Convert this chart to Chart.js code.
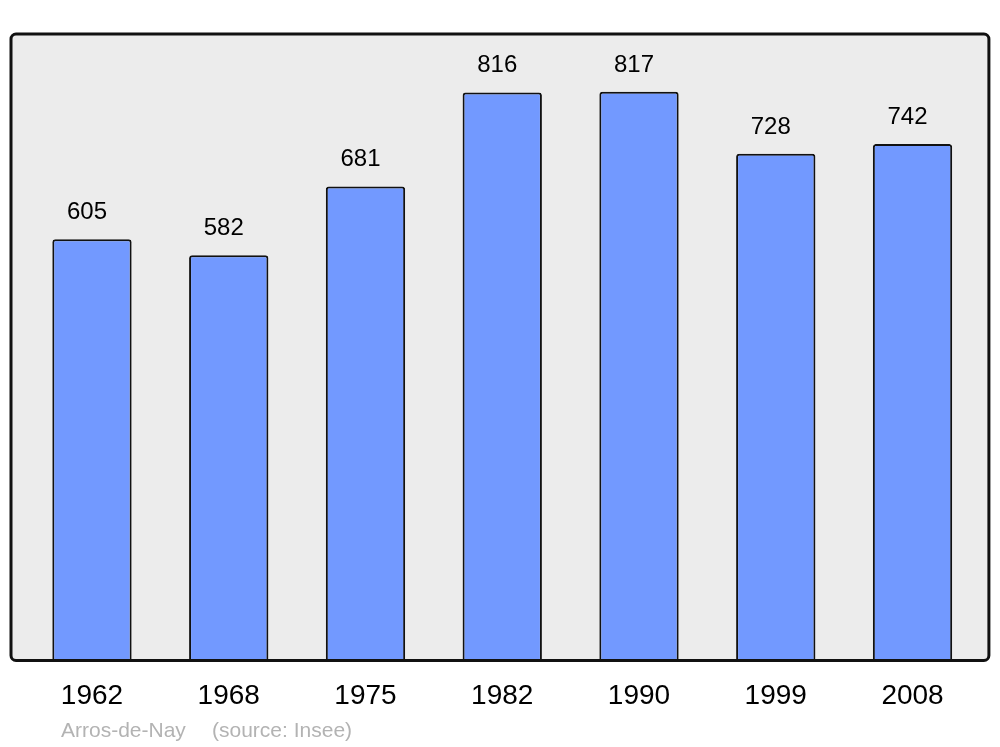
<!DOCTYPE html>
<html>
<head>
<meta charset="utf-8">
<script src="https://cdn.jsdelivr.net/npm/chart.js@4.4.0/dist/chart.umd.min.js"></script>
<style>
  html, body { margin: 0; padding: 0; background: #ffffff; }
  #wrap { width: 1000px; height: 747px; position: relative; }
</style>
</head>
<body>
<div id="wrap"><canvas id="popChart"></canvas></div>
<script>
// population data (Insee)
const years = ['1962', '1968', '1975', '1982', '1990', '1999', '2008'];
const population = [605, 582, 681, 816, 817, 728, 742];
const yMax = 900;

const townName = 'Arros-de-Nay';
const sourceText = '(source: Insee)';

// grey rounded frame behind the bars, dark outline drawn after them
const framePlugin = {
  id: 'frame',
  frameBox(chart) {
    const a = chart.chartArea;
    return { x: a.left - 12.6, y: a.top, w: (a.right + 8) - (a.left - 12.6), h: a.bottom - a.top };
  },
  beforeDatasetsDraw(chart) {
    const ctx = chart.ctx;
    const b = this.frameBox(chart);
    ctx.save();
    ctx.beginPath();
    ctx.roundRect(b.x, b.y, b.w, b.h, 5);
    ctx.fillStyle = '#ececec';
    ctx.fill();
    ctx.restore();
  },
  afterDatasetsDraw(chart) {
    const ctx = chart.ctx;
    const b = this.frameBox(chart);
    ctx.save();
    ctx.beginPath();
    ctx.roundRect(b.x, b.y, b.w, b.h, 5);
    ctx.lineWidth = 3;
    ctx.strokeStyle = '#111111';
    ctx.stroke();

    // value labels above each bar
    const meta = chart.getDatasetMeta(0);
    ctx.fillStyle = '#000000';
    ctx.font = '24px "Liberation Sans", Arial, sans-serif';
    ctx.textAlign = 'center';
    ctx.textBaseline = 'alphabetic';
    meta.data.forEach((bar, i) => {
      ctx.fillText(String(population[i]), bar.x - 5, bar.y - 20);
    });

    // footer caption
    ctx.fillStyle = '#b3b3b3';
    ctx.font = '21px "Liberation Sans", Arial, sans-serif';
    ctx.textAlign = 'left';
    ctx.fillText(townName, 61, 737);
    ctx.fillText(sourceText, 212, 737);
    ctx.restore();
  }
};

const config = {
  type: 'bar',
  data: {
    labels: years,
    datasets: [{
      data: population,
      backgroundColor: '#7299ff',
      borderColor: '#111111',
      borderWidth: 2,
      borderRadius: { topLeft: 3, topRight: 3, bottomLeft: 0, bottomRight: 0 },
      borderSkipped: 'bottom',
      barPercentage: 0.58,
      categoryPercentage: 1.0
    }]
  },
  options: {
    responsive: true,
    maintainAspectRatio: false,
    animation: false,
    layout: { padding: { left: 23.6, right: 19.1, top: 34, bottom: 15 } },
    plugins: {
      legend: { display: false },
      tooltip: { enabled: false },
      title: { display: false }
    },
    scales: {
      x: {
        grid: { display: false, drawTicks: false },
        border: { display: false },
        ticks: {
          color: '#000000',
          padding: 19,
          font: { family: '"Liberation Sans", Arial, sans-serif', size: 28 }
        }
      },
      y: {
        display: false,
        min: 0,
        max: yMax
      }
    }
  },
  plugins: [framePlugin]
};

const myChart = new Chart(document.getElementById('popChart'), config);
</script>
</body>
</html>
